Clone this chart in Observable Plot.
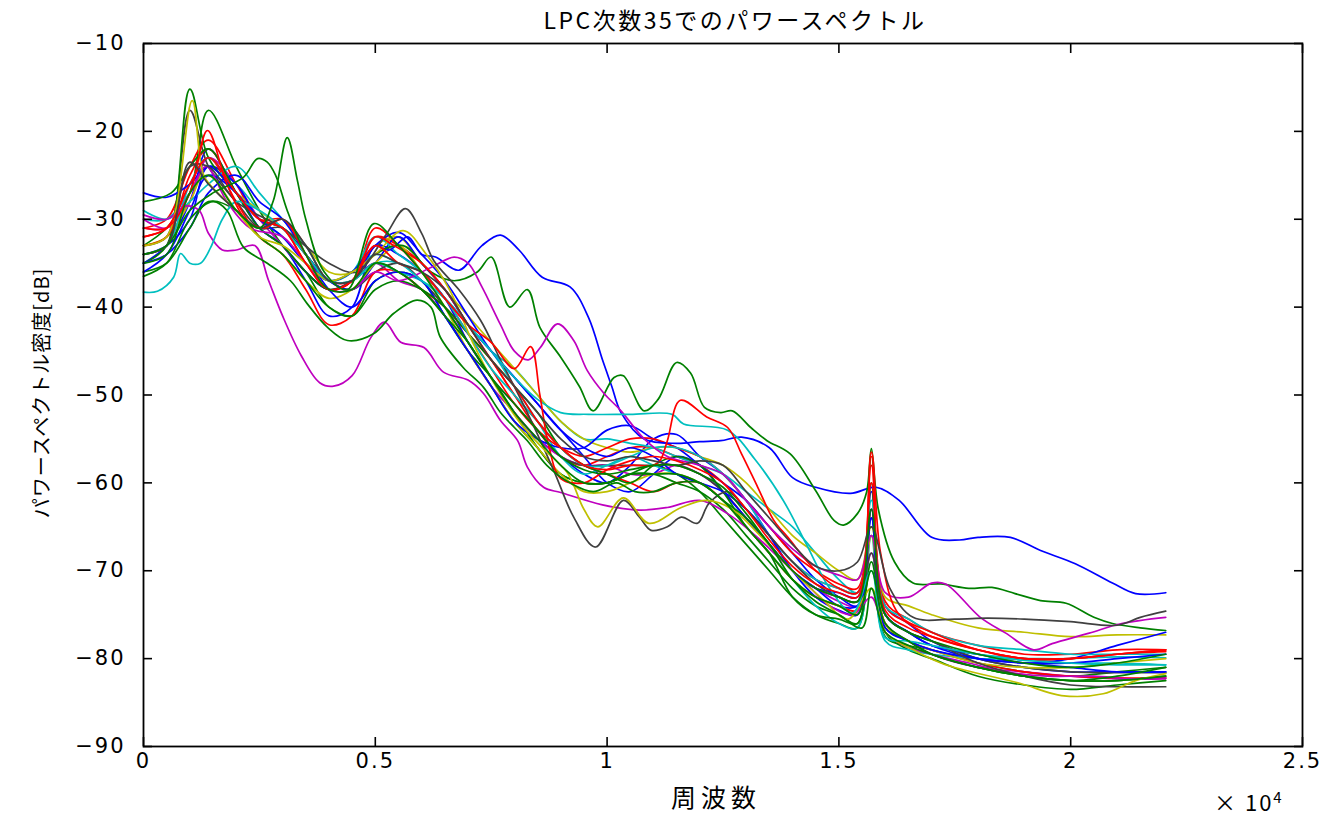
<!DOCTYPE html>
<html>
<head>
<meta charset="utf-8">
<script src="https://cdn.jsdelivr.net/npm/d3@7"></script>
<script src="https://cdn.jsdelivr.net/npm/@observablehq/plot@0.6"></script>
<style>
  html, body { margin: 0; padding: 0; background: #fff; }
  #wrap { position: relative; width: 1328px; height: 815px; font-family: "Noto Sans CJK JP", "DejaVu Sans", sans-serif; }
  .lbl { position: absolute; color: #000; white-space: nowrap; }
  #title { left: 735px; top: 2px; transform: translateX(-50%); font-size: 23px; letter-spacing: 2.5px; }
  #xlabel { left: 716px; top: 778px; transform: translateX(-50%); font-size: 25px; letter-spacing: 5px; }
  #xexp { left: 1214px; top: 785px; font-size: 22px; letter-spacing: 2px; }
  #ylabel { left: 40px; top: 393px; transform: translate(-50%, -50%) rotate(-90deg); font-size: 20px; letter-spacing: 1px; }
  #chart svg text { letter-spacing: 2px; }
</style>
</head>
<body>
<div id="wrap">
  <div id="chart"></div>
  <div class="lbl" id="title">LPC次数35でのパワースペクトル</div>
  <div class="lbl" id="xlabel">周波数</div>
  <div class="lbl" id="xexp">× 10<sup style="font-size:15px">4</sup></div>
  <div class="lbl" id="ylabel">パワースペクトル密度[dB]</div>
</div>
<script>
// ---- tick values ----
const xTicks = [0, 5000, 10000, 15000, 20000, 25000];
const yTicks = [-90, -80, -70, -60, -50, -40, -30, -20, -10];

// ---- shared frequency grid (kHz) for bundle series ----
const gridKHz = [0,0.5,1.0,1.4,2,2.5,3,3.5,4,4.5,5,5.5,6,6.5,7,7.5,8,8.5,9,9.5,10,10.5,11,11.5,12,12.5,13,13.5,14,14.5,15,15.4,15.7,16,16.5,17,18,19,20,21,22.05];

// ---- bundle series (dB on gridKHz) ----
const b1 = [-35,-33,-28,-22,-27,-31,-33,-37,-41,-40,-33,-34,-36,-39,-44,-48,-52,-55,-57,-59,-60,-58,-55,-54.5,-57,-59,-62,-66,-70,-72,-72.5,-73,-61,-74,-76,-78,-80,-81,-81.5,-81.5,-81.5];
const b2 = [-34,-33,-30,-24,-26,-30,-31,-34,-37,-38,-35,-32,-35,-38,-42,-45,-48,-51,-54,-57,-60,-61,-59,-57,-58,-61,-64,-67,-70,-72,-74,-74,-64,-75,-77,-78.5,-79.5,-80.5,-80,-78.5,-77];
const b3 = [-35,-34,-31,-27,-25,-28,-30,-34,-38,-40,-37,-36,-37,-41,-45,-49,-53,-55,-56,-56,-54,-53.5,-55,-56,-58,-60,-62,-65,-68,-71,-73,-74,-63,-75,-77,-78.5,-80,-80.5,-81,-81.5,-81.5];
const b4 = [-36,-34,-29,-25,-27,-31,-33,-36,-38,-37,-33,-31.5,-34,-37,-41,-45,-48,-51,-54,-56,-57,-56,-57,-59,-60,-61,-63,-66,-70,-73,-74.5,-75,-64,-76.5,-78,-79,-80,-80.5,-80.5,-80,-79.5];
const g1 = [-33,-31,-27,-17.6,-24,-29,-33,-36,-40,-41,-37,-36,-37,-41,-45,-48,-52,-56,-59,-60,-60,-59,-58,-59,-61,-64,-67,-70,-73,-75,-76,-76.5,-60,-77.5,-78.5,-79,-80.5,-81.5,-82,-81.5,-81];
const g2 = [-35,-33,-15.2,-23,-27,-30,-31,-34,-37,-37,-35,-36,-38,-41,-45,-49,-53,-56,-59,-60,-60,-59,-59,-60,-61,-63,-66,-69,-72,-74,-75,-76,-63,-77,-79,-80,-82,-83,-83.5,-83,-82.5];
const g3 = [-36,-35,-31,-28,-29,-32,-34,-37,-40,-41,-38,-37,-38,-40,-43,-46,-49,-52,-56,-58,-59,-60,-58,-57,-58,-61,-65,-68,-73,-75,-75.5,-76,-69,-76.5,-78,-79.5,-81,-82,-82.5,-82.5,-82];
const r1 = [-31,-30,-24,-21,-26,-30,-30,-33,-37,-37,-32,-33,-35,-38,-42,-46,-50,-54,-57,-58,-57,-56,-56,-57,-58,-60,-63,-66,-69,-71,-72,-72.5,-57,-73.5,-75.5,-77,-78.5,-79.5,-79.5,-79,-79];
const r2 = [-32,-31,-26,-23,-28,-32,-34,-38,-42,-41,-36,-36,-38,-40,-43,-46,-50,-53,-56,-58,-59,-60,-61,-60,-60,-62,-65,-68,-71,-73,-74,-74.5,-63,-76,-78,-79,-80.5,-81.5,-82,-82.2,-82.2];
const r3 = [-33,-32,-25,-22,-27,-30,-31,-35,-38,-37,-31,-33,-36,-39,-43,-47,-51,-54,-56,-57,-56,-55,-55,-56,-57,-59,-62,-65,-68,-70,-71.5,-72,-58,-74,-76,-77.5,-79,-80,-80,-79.5,-79.2];
const c1 = [-30,-30,-27,-24,-26,-29,-31,-34,-37,-36,-34,-35,-36,-39,-42,-45,-47,-50,-53,-55,-55,-55.5,-56,-57,-58,-59,-61,-63,-65,-68,-71,-72.5,-66,-75,-77,-78.5,-79.5,-80,-80.5,-80.5,-80.7];
const c2 = [-29,-30,-28,-26,-24,-27,-30,-33,-37,-37,-35,-36,-37,-39,-42,-45,-49,-53,-57,-59,-58,-57,-58,-59,-60,-62,-65,-68,-71,-74,-76,-76.5,-66,-78,-79,-79.5,-80,-80,-80,-79.8,-79.9];
const c3 = [-34,-33,-26,-23,-27,-30,-32,-35,-37,-36,-32,-34,-36,-39,-43,-47,-50,-53,-56,-58,-58,-57,-56,-56,-57,-59,-62,-66,-69,-71,-72,-72.5,-62,-74,-75.5,-77,-78.5,-79,-79.5,-79.5,-79.5];
const m1 = [-31,-31,-28,-23,-26,-30,-33,-36,-38,-37,-35,-37,-38,-41,-45,-49,-52,-55,-57,-58,-58,-59,-59,-58,-59,-61,-64,-67,-70,-72,-73.5,-74,-68,-76,-78,-79.5,-81,-81.5,-82,-82.3,-82.3];
const y1 = [-33,-32,-28,-24,-27,-29,-31,-33,-36,-36,-33,-32,-35,-38,-41,-44,-47,-50,-53,-55,-56,-56.5,-56,-56,-57,-58,-60,-63,-66,-68,-70,-71,-65,-73,-74,-75,-76.5,-77,-77.5,-77.3,-77.3];
const y2 = [-34,-33,-27,-25,-29,-32,-34,-37,-39,-38,-35,-33,-36,-40,-45,-49,-53,-56,-59,-61,-61,-60,-59,-59,-60,-62,-65,-68,-71,-73,-74,-75,-66,-76,-78,-79,-80.5,-81,-81,-80.5,-80];
const k1 = [-33,-32,-17.6,-24,-28,-31,-31,-34,-37,-38,-36,-35,-37,-40,-44,-48,-51,-54,-57,-58,-58,-58,-58,-58,-59,-61,-64,-67,-70,-72,-73,-73.5,-64,-75,-77,-78,-80,-81,-81.5,-81.6,-81.6];

// ---- distinctive series ([kHz, dB] pairs) ----
const blueHigh = [[0,-27],[0.5,-27.5],[1.0,-26],[1.4,-24],[2,-27],[2.5,-30],[3,-32],[3.5,-35],[4,-37],[4.5,-36],[5,-33],[5.3,-33.5],[5.7,-32],[6.0,-34],[6.3,-34.3],[6.8,-35.8],[7.3,-33],[7.7,-31.8],[8.1,-33.5],[8.6,-36.6],[9.2,-37.7],[9.6,-41.2],[9.9,-46],[10.1,-49],[10.3,-52],[10.8,-55],[11.5,-55.5],[12.0,-55.3],[12.45,-55.2],[12.9,-54.8],[13.5,-56],[14,-59.4],[14.5,-60.5],[15.25,-61.2],[15.8,-60.5],[16.3,-62],[17,-66.2],[17.6,-66.5],[18,-66.2],[18.7,-66.2],[19.35,-67.7],[20.1,-69.2],[20.9,-71.4],[21.4,-72.6],[22.05,-72.5]];
const greenMid = [[0,-28],[0.6,-27],[1.0,-24],[1.4,-22],[2,-27],[2.5,-31],[3,-33],[3.5,-36],[4,-38],[4.5,-37],[5,-34],[5.6,-33],[6.2,-36],[6.7,-37],[7.2,-36],[7.5,-34.3],[7.9,-40],[8.28,-38],[8.55,-42.3],[9,-45.7],[9.4,-49],[9.7,-51.8],[10.15,-48],[10.35,-47.8],[10.8,-51.8],[11.1,-50.5],[11.5,-46.3],[11.8,-47.5],[12.1,-51.4],[12.45,-52],[12.7,-51.8],[13.1,-53.7],[13.45,-55.2],[13.95,-56.7],[14.5,-60.9],[14.9,-64.3],[15.1,-64.8],[15.4,-63.5],[15.6,-61],[15.7,-56.1],[15.85,-63],[16.2,-69],[16.6,-71.4],[17.2,-71.5],[17.8,-72],[18.3,-71.9],[18.8,-72.6],[19.35,-73.4],[19.9,-73.7],[20.5,-75.3],[20.9,-76],[21.5,-76.5],[22.05,-76.8]];
const magentaLow = [[0,-29.5],[0.5,-30],[0.9,-28.5],[1.2,-29],[1.4,-31.6],[1.7,-33.5],[2,-33.5],[2.4,-33],[2.7,-37],[3.0,-41],[3.4,-45.5],[3.8,-48.6],[4.1,-49],[4.5,-47.8],[4.9,-43.5],[5.2,-41.7],[5.55,-44],[6.05,-44.6],[6.47,-47.4],[7.0,-48.3],[7.33,-49.8],[7.7,-52.9],[8.07,-55.2],[8.28,-58.2],[8.63,-60.5],[9.0,-61.1],[9.9,-62.5],[10.7,-63.1],[11.3,-62.8],[12.0,-62],[12.6,-63.5],[13.2,-66],[13.8,-69],[14.3,-71.5],[14.8,-74],[15.3,-75],[15.7,-73],[16,-77],[16.4,-78.5],[17,-79.5],[17.8,-80.5],[18.6,-81.5],[19.5,-82],[20.5,-82],[21.3,-82.3],[22.05,-82.2]];
const magentaHump = [[0,-30],[0.5,-31],[1.0,-27],[1.35,-24],[1.8,-28],[2.3,-31],[3,-32],[3.5,-35],[4,-38],[4.5,-38],[5,-36],[5.5,-37],[6.2,-35.5],[6.7,-34.3],[7.0,-35],[7.3,-37.7],[7.7,-42],[8.0,-45],[8.3,-46],[8.56,-44.6],[8.93,-41.9],[9.28,-43.8],[9.57,-47.2],[9.93,-49.8],[10.3,-51.8],[10.8,-55],[11.3,-57],[12,-58],[12.5,-59],[13,-62],[13.5,-65],[14,-67.5],[14.5,-69.5],[15,-70.5],[15.4,-71],[15.7,-66],[16,-72.5],[16.5,-73],[17,-71.4],[17.3,-71.5],[18.05,-75.3],[18.6,-77.1],[19.2,-79],[19.6,-78.3],[20.4,-77.1],[21.1,-76],[22.05,-75.3]];
const grayDip = [[0,-34],[0.5,-33],[1.0,-24],[1.4,-24],[2,-28],[3,-31],[4,-35],[4.6,-36],[5.2,-32],[5.65,-28.8],[6.0,-31.6],[6.26,-34.7],[6.8,-38],[7.27,-41.5],[7.7,-46],[8.28,-52],[8.85,-58.6],[9.28,-63.9],[9.75,-67.3],[10.35,-62],[10.7,-63.9],[10.95,-65.4],[11.3,-65],[11.6,-63.9],[11.95,-64.6],[12.2,-62.3],[12.6,-61],[13,-63],[13.5,-66],[14,-69],[14.5,-71.5],[15,-73],[15.4,-73.5],[15.7,-68],[16,-75],[16.5,-77],[17,-78],[18,-80.5],[19,-82],[20,-83],[21,-83.2],[22.05,-83.2]];
const yellowDip = [[0,-33],[0.5,-32],[1.05,-16.5],[1.3,-25],[1.6,-27],[2,-29],[2.5,-32],[3,-33],[3.5,-35],[4,-37],[4.5,-36],[5,-34],[5.6,-31.3],[6.1,-34],[6.6,-38],[7.1,-44],[7.6,-49],[8.1,-53],[8.6,-56],[9.15,-58.9],[9.5,-63],[9.8,-65],[10.35,-61.7],[10.9,-64.6],[11.6,-62.8],[12.15,-62],[12.7,-63],[13.3,-66],[14,-70],[14.6,-73],[15.2,-75.5],[15.7,-72],[16,-77],[16.6,-79],[17.2,-80.5],[17.7,-81.3],[18.9,-82.8],[19.8,-84.2],[20.7,-84],[21.4,-82.5],[22.05,-81.7]];
const cyanLow = [[0,-38.3],[0.3,-38.2],[0.65,-36.6],[0.8,-33.9],[1.0,-35],[1.23,-35],[1.45,-33.2],[1.7,-30],[2.0,-28],[2.5,-29],[3,-31],[3.5,-34],[4,-37],[4.5,-37],[5,-35],[5.5,-35],[6,-37],[6.5,-39],[7,-42],[7.5,-45],[8,-48],[8.5,-50.5],[9,-52],[9.6,-52.2],[10.5,-52.2],[11.4,-52.2],[11.65,-53.3],[12.6,-54],[13.2,-57.4],[13.8,-62],[14.3,-67],[14.8,-72],[15.3,-74.8],[15.7,-70],[16.0,-77.6],[16.5,-78],[17,-78.5],[18,-79.5],[19,-80.2],[20,-80.5],[21,-80.7],[22.05,-80.7]];
const redPeak = [[0,-31],[0.5,-31],[1,-27],[1.38,-19.9],[1.8,-26],[2.2,-30],[2.6,-31],[3,-30],[3.5,-34],[4,-38],[4.5,-37],[5,-32],[5.4,-33],[6,-35],[6.5,-38],[7,-42],[7.5,-46],[8,-49],[8.5,-53],[9,-56],[9.5,-58],[10,-58.5],[10.5,-58],[11,-58],[11.15,-57.4],[11.3,-55.2],[11.58,-50.6],[12.15,-52.5],[12.6,-53.7],[12.9,-56.7],[13.25,-60.5],[13.6,-64.3],[13.9,-66.2],[14.5,-70],[15,-72],[15.4,-72.5],[15.7,-56.5],[15.9,-68],[16.3,-75],[17,-77],[18,-79],[19,-80],[20,-80],[21,-79.5],[22.05,-79]];
const redSteep = [[0,-32],[0.5,-31],[1.0,-26],[1.4,-23],[2,-27],[2.5,-30],[3,-31],[3.5,-35],[4,-38],[4.5,-37],[5,-33],[5.5,-35],[6,-36],[6.5,-39],[7,-42],[7.5,-44],[8.0,-47],[8.35,-44.5],[8.55,-50],[8.75,-56],[9.0,-59.5],[9.5,-60],[10,-58.5],[10.5,-57.5],[11,-57],[11.5,-57.5],[12,-58.5],[12.5,-60],[13,-63],[13.5,-66.5],[14,-69.5],[14.5,-71.5],[15,-72.5],[15.4,-73],[15.7,-60],[16,-74.5],[16.5,-76.5],[17,-77.5],[18,-79],[19,-80],[20,-80],[21,-79.5],[22.05,-79]];
const greenLow = [[0,-36.5],[0.5,-35],[1.0,-30],[1.5,-28],[1.8,-29],[2.16,-33.2],[2.67,-35],[3.17,-37],[3.53,-39.6],[3.97,-42.3],[4.4,-43.8],[4.97,-43],[5.4,-40.7],[5.9,-39.2],[6.2,-40],[6.4,-43.4],[6.9,-46.9],[7.33,-49.1],[7.7,-52],[8.0,-53.7],[8.28,-55.2],[8.7,-58],[9.2,-60],[9.7,-61],[10.2,-60],[10.6,-61],[11,-61],[11.5,-60],[12,-60],[12.5,-62],[13,-64],[13.5,-67],[14,-71],[14.5,-73.5],[15,-75],[15.5,-76.5],[15.7,-72],[16,-77],[16.5,-78.5],[17,-79.5],[18,-81],[19,-82],[20,-82.5],[21,-82],[22.05,-81]];
const grayFlat = [[0,-34],[0.5,-33],[1.0,-23.5],[1.4,-26],[2,-29],[2.5,-31],[3,-30],[3.5,-33],[4,-37],[4.5,-37],[5,-34],[5.5,-35],[6,-36],[6.5,-38],[7,-42],[7.5,-46],[8,-49],[8.5,-52],[9,-55],[9.5,-57],[10,-57.5],[10.5,-57],[11,-57.5],[11.5,-58],[12,-57.5],[12.5,-58],[13,-61],[13.5,-64],[14,-67],[14.5,-69.5],[15,-70],[15.4,-69],[15.7,-65],[16.1,-72],[16.6,-75.3],[17.5,-75.5],[18.2,-75.4],[19,-75.5],[20,-75.8],[21,-76.2],[21.5,-75.3],[22.05,-74.6]];
const greenHump = [[0,-34],[0.5,-33],[1.0,-29],[1.5,-27],[2.16,-25.2],[2.46,-23.1],[2.67,-23.5],[2.85,-25],[3.1,-29],[3.5,-34],[4,-38],[4.5,-38],[5,-35],[5.5,-36],[6,-38],[6.5,-41],[7,-44],[7.5,-48],[8,-51],[8.5,-54],[9,-57],[9.5,-58.5],[10,-59],[10.5,-58.5],[11,-58],[11.5,-58],[12,-59],[12.5,-60.5],[13,-63.5],[13.5,-67],[14,-70],[14.5,-72],[15,-73],[15.4,-73.5],[15.7,-63],[16,-75],[16.5,-77],[17,-78],[18,-79.5],[19,-80.5],[20,-81],[21,-80.5],[22.05,-79.5]];
const greenSpike = [[0,-35],[0.5,-34],[1.0,-27],[1.4,-25],[2,-29],[2.5,-31],[2.8,-27.9],[3.1,-20.7],[3.32,-25.6],[3.5,-30],[3.9,-36],[4.4,-38],[4.97,-30.5],[5.5,-33],[6,-36],[6.5,-40],[7,-44],[7.5,-48],[8,-52],[8.5,-55],[9,-58],[9.5,-60],[10,-60],[10.5,-59],[11,-59],[11.5,-59],[12,-60],[12.5,-62],[13,-65],[13.5,-68],[14,-71],[14.5,-73],[15,-74],[15.4,-75],[15.7,-70],[16,-76],[16.5,-78],[17,-79.5],[18,-81],[19,-82],[20,-82.5],[21,-82.5],[22.05,-82]];

// ---- MATLAB-style colours ----
const C = {b: "#0000ff", g: "#008000", r: "#ff0000", c: "#00bfbf", m: "#bf00bf", y: "#bfbf00", k: "#404040"};

const gridSeries = [
  ["b1", b1, C.b], ["g1", g1, C.g], ["r1", r1, C.r], ["c1", c1, C.c], ["m1", m1, C.m], ["y1", y1, C.y], ["k1", k1, C.k],
  ["b2", b2, C.b], ["g2", g2, C.g], ["r2", r2, C.r], ["c2", c2, C.c], ["y2", y2, C.y],
  ["b3", b3, C.b], ["g3", g3, C.g], ["r3", r3, C.r], ["c3", c3, C.c], ["b4", b4, C.b]
];
const pairSeries = [
  ["blueHigh", blueHigh, C.b], ["greenMid", greenMid, C.g], ["magentaLow", magentaLow, C.m], ["magentaHump", magentaHump, C.m],
  ["grayDip", grayDip, C.k], ["yellowDip", yellowDip, C.y], ["cyanLow", cyanLow, C.c], ["redPeak", redPeak, C.r],
  ["redSteep", redSteep, C.r], ["greenLow", greenLow, C.g], ["grayFlat", grayFlat, C.k], ["greenHump", greenHump, C.g],
  ["greenSpike", greenSpike, C.g]
];

const rows = [];
for (const [id, vals, color] of gridSeries) vals.forEach((v, i) => rows.push({id, color, f: gridKHz[i] * 1000, db: v}));
for (const [id, pts, color] of pairSeries) pts.forEach(([k, v]) => rows.push({id, color, f: k * 1000, db: v}));

const chart = Plot.plot({
  width: 1328,
  height: 815,
  marginLeft: 143,
  marginRight: 26,
  marginTop: 43,
  marginBottom: 69,
  style: {fontFamily: "'DejaVu Sans', sans-serif", fontSize: "21px", background: "#fff"},
  x: {domain: [0, 25000]},
  y: {domain: [-90, -10]},
  marks: [
    Plot.line(rows, {x: "f", y: "db", z: "id", stroke: "color", strokeWidth: 1.7, curve: "catmull-rom"}),
    Plot.frame({stroke: "#000", strokeWidth: 1.8}),
    Plot.axisX(xTicks, {anchor: "bottom", tickSize: 0, tickPadding: 7, tickFormat: d => d3.format("")(d / 1e4), label: null, fontSize: 21}),
    Plot.axisY(yTicks, {anchor: "left", tickSize: 0, tickPadding: 18, tickFormat: d => d3.format("")(d), label: null, fontSize: 21}),
    Plot.axisX(xTicks, {anchor: "bottom", tickSize: -9, tickFormat: () => "", label: null, strokeWidth: 1.6}),
    Plot.axisX(xTicks, {anchor: "top", tickSize: -9, tickFormat: () => "", label: null, strokeWidth: 1.6}),
    Plot.axisY(yTicks, {anchor: "left", tickSize: -9, tickFormat: () => "", label: null, strokeWidth: 1.6}),
    Plot.axisY(yTicks, {anchor: "right", tickSize: -9, tickFormat: () => "", label: null, strokeWidth: 1.6})
  ]
});
document.getElementById("chart").appendChild(chart);
</script>
</body>
</html>
